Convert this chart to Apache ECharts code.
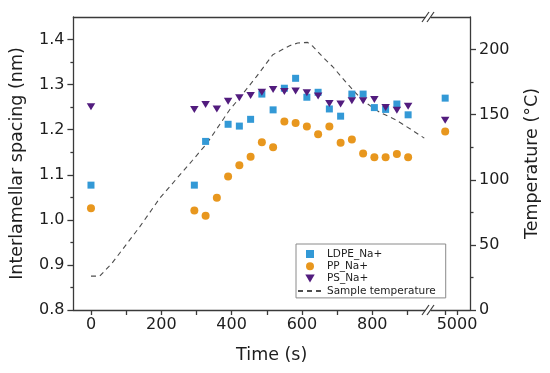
<!DOCTYPE html>
<html><head><meta charset="utf-8">
<script src="https://cdn.jsdelivr.net/npm/echarts@6/dist/echarts.min.js"></script>
<style>html,body{margin:0;padding:0;background:#fff}#c{width:550px;height:373px}</style>
</head><body><div id="c"></div>
<script>
// ---- data ----
const times = [0, 294, 326, 358, 390, 422, 454, 486, 518, 550, 582, 614, 646, 678, 710, 742, 774, 806, 838, 870, 902];
const ldpe  = [1.077, 1.077, 1.174, null, 1.212, 1.208, 1.223, 1.279, 1.244, 1.292, 1.314, 1.272, 1.283, 1.246, 1.230, 1.279, 1.279, 1.249, 1.245, 1.257, 1.233];
const pp    = [1.026, 1.021, 1.009, 1.049, 1.096, 1.121, 1.140, 1.172, 1.161, 1.218, 1.215, 1.207, 1.190, 1.207, 1.171, 1.178, 1.147, 1.139, 1.139, 1.146, 1.139];
const ps    = [1.251, 1.245, 1.256, 1.246, 1.263, 1.271, 1.276, 1.283, 1.289, 1.285, 1.286, 1.282, 1.275, 1.258, 1.257, 1.264, 1.264, 1.267, 1.249, 1.243, 1.252];
const lateTimes = [4800];
const ldpeLate = [1.270];
const ppLate = [1.196];
const psLate = [1.221];
const tempTimes  = [0, 25, 60, 139, 196, 289, 330, 394, 423, 470, 517, 565, 588, 616, 631, 658, 687, 725, 772, 820, 867, 914, 948];
const tempValues = [26, 26, 36, 64, 86, 115, 128, 153.6, 163, 179, 196, 203, 205, 205.5, 202.5, 194.6, 187, 175, 161, 152, 146, 138, 132];
const xTickLabels = [0, 200, 400, 600, 800];
const xTickMarks = [0, 100, 200, 300, 400, 500, 600, 700, 800, 900];
const lateTickLabels = [5000];
const lateTickMarks = [4800, 5000];
const yTickLabels = [0.8, 0.9, 1.0, 1.1, 1.2, 1.3, 1.4];
const yMinorTicks = [0.85, 0.95, 1.05, 1.15, 1.25, 1.35];
const tTickLabels = [0, 50, 100, 150, 200];
const tMinorTicks = [25, 75, 125, 175];
const names = ['LDPE_Na+', 'PP_Na+', 'PS_Na+', 'Sample temperature'];

// ---- style ----
const FONT = 'DejaVu Sans';
const AX = '#3a3a3a';
const TXT = '#1e1e1e';
const C_LDPE = '#3399D6', C_PP = '#E8971E', C_PS = '#521C7E';
const triPath = 'path://M0,0 L10,0 L5,8.5 Z';
const sqPath = 'path://M0,0 L10,0 L10,10 L0,10 Z';

const pair = (xs, ys) => xs.map((x, i) => [x, ys[i]]).filter(d => d[1] != null);

const lineStyleAx = { color: AX, width: 1.3 };
const baseX = (grid, min, max) => ({ type: 'value', gridIndex: grid, min, max, splitLine: { show: false } });
const baseY = (grid, min, max) => ({ type: 'value', gridIndex: grid, min, max, splitLine: { show: false } });
const axLine = { show: true, onZero: false, lineStyle: lineStyleAx };
const noLine = { show: false, onZero: false };

const chart = echarts.init(document.getElementById('c'), null, { renderer: 'canvas' });
chart.setOption({
  animation: false,
  backgroundColor: '#fff',
  textStyle: { fontFamily: FONT },
  grid: [
    { left: 73.4, right: 125, top: 17, bottom: 63, outerBoundsMode: 'none' },
    { left: 431, right: 80, top: 17, bottom: 63, outerBoundsMode: 'none' },
    { left: 73.4, right: 80, top: 17, bottom: 63, outerBoundsMode: 'none' }
  ],
  xAxis: [
    Object.assign(baseX(0, -50, 950), {
      position: 'bottom',
      axisLine: axLine,
      axisTick: { show: true, inside: false, length: 5, lineStyle: lineStyleAx, customValues: xTickMarks },
      axisLabel: { show: true, customValues: xTickLabels, margin: 7, color: TXT, fontSize: 16, fontFamily: FONT,
                   formatter: v => String(v) }
    }),
    Object.assign(baseX(0, -50, 950), {
      position: 'top',
      axisLine: axLine,
      axisTick: { show: false }, axisLabel: { show: false }
    }),
    Object.assign(baseX(1, 4560, 5220), {
      position: 'bottom',
      axisLine: axLine,
      axisTick: { show: true, length: 5, lineStyle: lineStyleAx, customValues: lateTickMarks },
      axisLabel: { show: true, customValues: lateTickLabels, margin: 7, color: TXT, fontSize: 16, fontFamily: FONT,
                   formatter: v => String(v) }
    }),
    Object.assign(baseX(1, 4560, 5220), {
      position: 'top',
      axisLine: axLine,
      axisTick: { show: false }, axisLabel: { show: false }
    }),
    Object.assign(baseX(2, 0, 1), {
      position: 'bottom',
      axisLine: noLine, axisTick: { show: false }, axisLabel: { show: false },
      name: 'Time (s)', nameLocation: 'middle', nameGap: 36,
      nameTextStyle: { fontSize: 17.5, color: TXT, fontFamily: FONT }
    })
  ],
  yAxis: [
    Object.assign(baseY(0, 0.8, 1.45), {
      position: 'left',
      axisLine: axLine,
      axisTick: { show: true, length: 6, lineStyle: lineStyleAx, customValues: yTickLabels },
      axisLabel: { show: true, customValues: yTickLabels, margin: 9, color: TXT, fontSize: 16, fontFamily: FONT,
                   formatter: v => Number(v).toFixed(1) },
      name: 'Interlamellar spacing (nm)', nameLocation: 'middle', nameGap: 47,
      nameTextStyle: { fontSize: 17.5, color: TXT, fontFamily: FONT }
    }),
    Object.assign(baseY(0, 0.8, 1.45), {
      position: 'left',
      axisLine: noLine,
      axisTick: { show: true, length: 3, lineStyle: lineStyleAx, customValues: yMinorTicks },
      axisLabel: { show: false }
    }),
    Object.assign(baseY(0, 0, 225), { position: 'right', show: false, axisLine: noLine }),
    Object.assign(baseY(1, 0.8, 1.45), { position: 'left', show: false, axisLine: noLine }),
    Object.assign(baseY(1, 0, 225), {
      position: 'right',
      axisLine: axLine,
      axisTick: { show: true, length: 6, lineStyle: lineStyleAx, customValues: tTickLabels },
      axisLabel: { show: true, customValues: tTickLabels, margin: 9, color: TXT, fontSize: 16, fontFamily: FONT },
      name: 'Temperature (°C)', nameLocation: 'middle', nameGap: 53, nameRotate: 90,
      nameTextStyle: { fontSize: 17.5, color: TXT, fontFamily: FONT }
    }),
    Object.assign(baseY(1, 0, 225), {
      position: 'right',
      axisLine: noLine,
      axisTick: { show: true, length: 3.5, lineStyle: lineStyleAx, customValues: tMinorTicks },
      axisLabel: { show: false }
    }),
    Object.assign(baseY(2, 0, 1), { show: false, axisLine: noLine })
  ],
  legend: {
    orient: 'vertical', left: 296, top: 244,
    data: [
      { name: names[0] },
      { name: names[1] },
      { name: names[2] },
      { name: names[3], itemStyle: { color: 'rgba(0,0,0,0)', borderColor: 'rgba(0,0,0,0)', borderWidth: 0, opacity: 0 } }
    ],
    backgroundColor: '#fff',
    borderColor: '#8a8a8a', borderWidth: 1,
    padding: [4, 10, 1, 1],
    itemWidth: 24, itemHeight: 8, itemGap: 0.3,
    textStyle: { fontSize: 10.5, lineHeight: 12, color: TXT, fontFamily: FONT }
  },
  series: [
    { name: names[3], type: 'line', xAxisIndex: 0, yAxisIndex: 2, data: pair(tempTimes, tempValues),
      symbol: 'none', smooth: false, z: 1,
      lineStyle: { color: '#4d4d4d', width: 1.1, type: [5, 4] }, itemStyle: { color: '#4d4d4d' } },
    { name: names[0], type: 'scatter', xAxisIndex: 0, yAxisIndex: 0, data: pair(times, ldpe),
      symbol: sqPath, symbolSize: 7, itemStyle: { color: C_LDPE, opacity: 1 }, z: 3 },
    { name: names[1], type: 'scatter', xAxisIndex: 0, yAxisIndex: 0, data: pair(times, pp),
      symbol: 'circle', symbolSize: 8, itemStyle: { color: C_PP, opacity: 1 }, z: 3 },
    { name: names[2], type: 'scatter', xAxisIndex: 0, yAxisIndex: 0, data: pair(times, ps),
      symbol: triPath, symbolSize: [8.5, 7], itemStyle: { color: C_PS, opacity: 1 }, z: 4 },
    { name: names[0], type: 'scatter', xAxisIndex: 2, yAxisIndex: 3, data: pair(lateTimes, ldpeLate),
      symbol: sqPath, symbolSize: 7, itemStyle: { color: C_LDPE, opacity: 1 }, z: 3 },
    { name: names[1], type: 'scatter', xAxisIndex: 2, yAxisIndex: 3, data: pair(lateTimes, ppLate),
      symbol: 'circle', symbolSize: 8, itemStyle: { color: C_PP, opacity: 1 }, z: 3 },
    { name: names[2], type: 'scatter', xAxisIndex: 2, yAxisIndex: 3, data: pair(lateTimes, psLate),
      symbol: triPath, symbolSize: [8.5, 7], itemStyle: { color: C_PS, opacity: 1 }, z: 4 }
  ],
  graphic: [
    { type: 'line', shape: { x1: 422, y1: 315, x2: 429, y2: 305 }, style: { stroke: AX, lineWidth: 1.2 }, z: 100 },
    { type: 'line', shape: { x1: 427, y1: 315, x2: 434, y2: 305 }, style: { stroke: AX, lineWidth: 1.2 }, z: 100 },
    { type: 'line', shape: { x1: 422, y1: 22, x2: 429, y2: 12 }, style: { stroke: AX, lineWidth: 1.2 }, z: 100 },
    { type: 'line', shape: { x1: 427, y1: 22, x2: 434, y2: 12 }, style: { stroke: AX, lineWidth: 1.2 }, z: 100 }
  ]
});
</script>
</body></html>
